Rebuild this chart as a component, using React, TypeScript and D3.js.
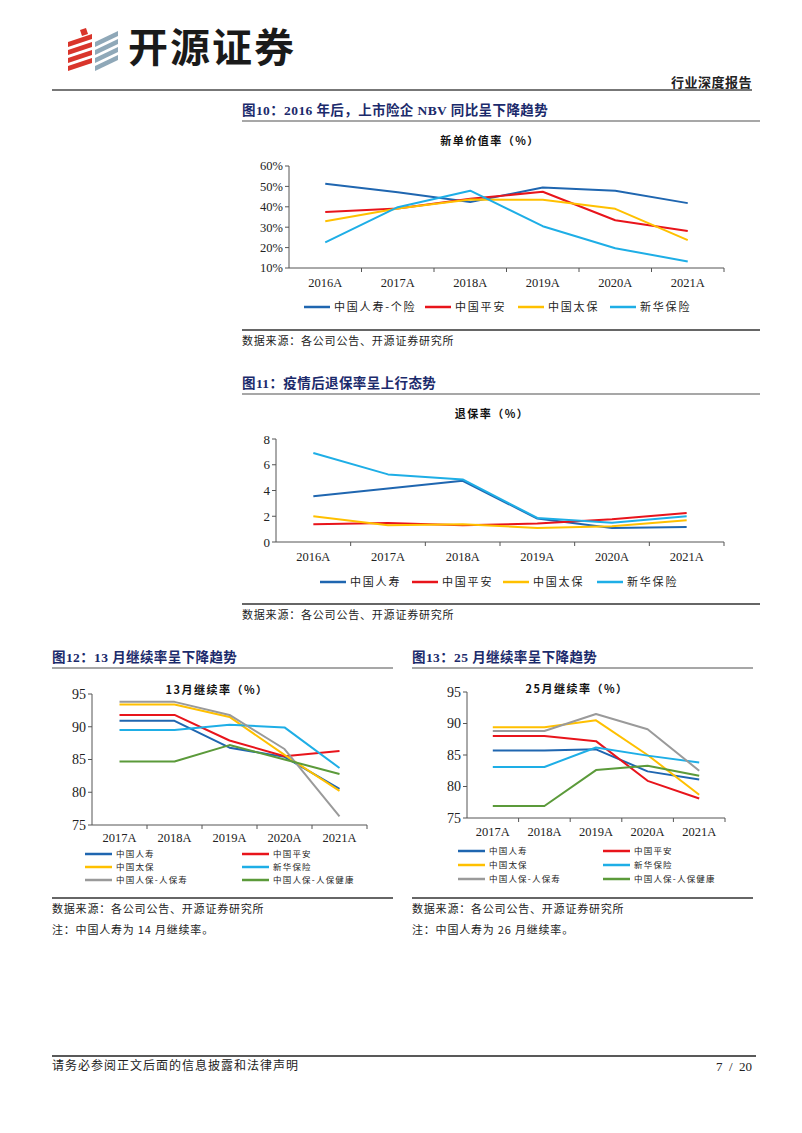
import React from "react";
import * as d3 from "d3";

const years6 = ["2016A", "2017A", "2018A", "2019A", "2020A", "2021A"];
const years5 = ["2017A", "2018A", "2019A", "2020A", "2021A"];

const nbvLife = [51.3, 47.1, 42.3, 49.5, 47.9, 41.8];
const nbvPingAn = [37.4, 39.2, 43.9, 47.4, 33.4, 28.1];
const nbvCpic = [32.9, 39.2, 43.6, 43.4, 39.0, 23.7];
const nbvNci = [22.6, 39.8, 47.9, 30.5, 19.7, 13.2];
const nbvTicks = [10, 20, 30, 40, 50, 60];

const surLife = [3.56, 4.16, 4.75, 1.82, 1.09, 1.17];
const surPingAn = [1.38, 1.48, 1.30, 1.43, 1.77, 2.26];
const surCpic = [2.0, 1.30, 1.38, 1.09, 1.22, 1.69];
const surNci = [6.91, 5.25, 4.86, 1.87, 1.5, 2.0];
const surTicks = [0, 2, 4, 6, 8];

const p13Life = [90.9, 90.9, 86.8, 85.4, 80.5];
const p13PingAn = [91.8, 91.8, 87.9, 85.5, 86.3];
const p13Cpic = [93.4, 93.4, 91.5, 85.7, 80.2];
const p13Nci = [89.5, 89.5, 90.3, 89.9, 83.7];
const p13PiccLife = [93.8, 93.8, 91.8, 86.6, 76.3];
const p13PiccHealth = [84.7, 84.7, 87.2, 85.0, 82.8];

const p25Life = [85.7, 85.7, 85.9, 82.4, 81.1];
const p25PingAn = [88.0, 88.0, 87.2, 80.9, 78.1];
const p25Cpic = [89.4, 89.4, 90.5, 85.0, 78.7];
const p25Nci = [83.1, 83.1, 86.2, 84.9, 83.8];
const p25PiccLife = [88.8, 88.8, 91.5, 89.1, 82.5];
const p25PiccHealth = [76.9, 76.9, 82.6, 83.3, 81.7];
const persTicks = [75, 80, 85, 90, 95];

const C = {
  life: "#1F66B0",
  pingan: "#E8141B",
  cpic: "#FFC000",
  nci: "#1EAEE6",
  piccLife: "#9A9A9A",
  piccHealth: "#5B9A3A",
};

const SERIF = "'Liberation Serif','Times New Roman','Noto Sans CJK SC',serif";
const CJK = "'Noto Sans CJK SC','Liberation Serif',serif";
const NAVY = "#1B2A6B";

type Series = { name: string; color: string; values: number[] };
type Legend = { x: number; y: number; series: number; lineLen: number }[];

function LineChart(props: {
  left: number; right: number; top: number; bottom: number;
  cats: string[]; domain: [number, number]; ticks: number[];
  fmt: (v: number) => string; series: Series[]; labelY: number;
  legend: Legend; legendFont: number; tickFont: number; yTickFont: number;
}) {
  const { left, right, top, bottom, cats, domain, ticks, fmt, series, labelY, legend, legendFont, tickFont, yTickFont } = props;
  const x = d3.scaleBand<string>().domain(cats).range([left, right]);
  const y = d3.scaleLinear().domain(domain).range([bottom, top]);
  const line = d3
    .line<number>()
    .x((_, i) => (x(cats[i]) as number) + x.bandwidth() / 2)
    .y((v) => y(v));
  const axisColor = "#555";
  return (
    <g>
      {series.map((s) => (
        <path key={s.name} d={line(s.values) || ""} fill="none" stroke={s.color} strokeWidth={2} strokeLinejoin="round" />
      ))}
      <line x1={left} x2={left} y1={top} y2={bottom} stroke={axisColor} strokeWidth={1} />
      <line x1={left} x2={right} y1={bottom} y2={bottom} stroke={axisColor} strokeWidth={1} />
      {ticks.map((t) => (
        <g key={t}>
          <line x1={left - 4} x2={left} y1={y(t)} y2={y(t)} stroke={axisColor} />
          <text x={left - 6} y={y(t)} dy="0.35em" textAnchor="end" fontFamily={SERIF} fontSize={yTickFont} fill="#222">
            {fmt(t)}
          </text>
        </g>
      ))}
      {cats.map((c, i) => (
        <g key={c}>
          {i > 0 && (
            <line x1={x(c) as number} x2={x(c) as number} y1={bottom} y2={bottom + 4} stroke={axisColor} />
          )}
          <text x={(x(c) as number) + x.bandwidth() / 2} y={labelY} dy="0.35em" textAnchor="middle" fontFamily={SERIF} fontSize={tickFont} fill="#222">
            {c}
          </text>
        </g>
      ))}
      <line x1={right} x2={right} y1={bottom} y2={bottom + 4} stroke={axisColor} />
      {legend.map((l) => {
        const s = series[l.series];
        return (
          <g key={s.name}>
            <line x1={l.x} x2={l.x + l.lineLen} y1={l.y} y2={l.y} stroke={s.color} strokeWidth={2.5} />
            <text x={l.x + l.lineLen + 4} y={l.y} dy="0.35em" fontFamily={CJK} fontSize={legendFont} letterSpacing={legendFont > 9 ? 1.8 : 1.2} fill="#222">
              {s.name}
            </text>
          </g>
        );
      })}
    </g>
  );
}

function FigTitle({ x, y, x2, text }: { x: number; y: number; x2: number; text: string }) {
  return (
    <g>
      <text x={x} y={y} dy="0.35em" fontFamily={SERIF} fontWeight="bold" fontSize={13.5} fill={NAVY} letterSpacing={0.4}>
        {text}
      </text>
      <line x1={x} x2={x2} y1={y + 11} y2={y + 11} stroke="#8a8a8a" strokeWidth={1.5} />
    </g>
  );
}

function Source({ x, y, x2, note }: { x: number; y: number; x2: number; note?: string }) {
  return (
    <g>
      <line x1={x} x2={x2} y1={y} y2={y} stroke="#333" strokeWidth={1.5} />
      <text x={x} y={y + 11} dy="0.35em" fontFamily={CJK} fontSize={11} letterSpacing={0.8} fill="#222">
        数据来源：各公司公告、开源证券研究所
      </text>
      {note && (
        <text x={x} y={y + 32} dy="0.35em" fontFamily={CJK} fontSize={11} letterSpacing={0.8} fill="#222">
          {note}
        </text>
      )}
    </g>
  );
}

function ChartTitle({ x, y, text, size }: { x: number; y: number; text: string; size: number }) {
  return (
    <text x={x} y={y} dy="0.35em" textAnchor="middle" fontFamily={CJK} fontWeight="bold" fontSize={size} letterSpacing={1.5} fill="#111">
      {text}
    </text>
  );
}

function Logo() {
  const red = "#D9352B";
  const gray = "#8FA8B8";
  const stripes = [0, 1, 2, 3];
  return (
    <g>
      {stripes.map((i) => (
        <polygon key={"r" + i} points={`${68},${42 + i * 8} ${92},${34 + i * 8} ${92},${39 + i * 8} ${68},${47 + i * 8}`} fill={red} />
      ))}
      <polygon points="80,30 86,28 88,34 82,36" fill={red} />
      {stripes.map((i) => (
        <polygon key={"g" + i} points={`${95},${42 + i * 8} ${118},${31 + i * 8} ${118},${36 + i * 8} ${95},${47 + i * 8}`} fill={gray} />
      ))}
    </g>
  );
}

export default function App() {
  const s4 = (names: string[], vals: number[][], cols: string[]): Series[] =>
    names.map((n, i) => ({ name: n, color: cols[i], values: vals[i] }));
  const nbv = s4(["中国人寿-个险", "中国平安", "中国太保", "新华保险"], [nbvLife, nbvPingAn, nbvCpic, nbvNci], [C.life, C.pingan, C.cpic, C.nci]);
  const sur = s4(["中国人寿", "中国平安", "中国太保", "新华保险"], [surLife, surPingAn, surCpic, surNci], [C.life, C.pingan, C.cpic, C.nci]);
  const six = ["中国人寿", "中国平安", "中国太保", "新华保险", "中国人保-人保寿", "中国人保-人保健康"];
  const cols6 = [C.life, C.pingan, C.cpic, C.nci, C.piccLife, C.piccHealth];
  const p13 = s4(six, [p13Life, p13PingAn, p13Cpic, p13Nci, p13PiccLife, p13PiccHealth], cols6);
  const p25 = s4(six, [p25Life, p25PingAn, p25Cpic, p25Nci, p25PiccLife, p25PiccHealth], cols6);
  const pct = (v: number) => `${v}%`;
  const num = (v: number) => `${v}`;
  const leg6 = (lx: number, rx: number, ys: number[]): Legend => [
    { x: lx, y: ys[0], series: 0, lineLen: 27 },
    { x: rx, y: ys[0], series: 1, lineLen: 27 },
    { x: lx, y: ys[1], series: 2, lineLen: 27 },
    { x: rx, y: ys[1], series: 3, lineLen: 27 },
    { x: lx, y: ys[2], series: 4, lineLen: 27 },
    { x: rx, y: ys[2], series: 5, lineLen: 27 },
  ];
  return (
    <svg width={802} height={1133} style={{ position: "absolute", left: 0, top: 0, background: "#fff" }}>
      <rect width={802} height={1133} fill="#fff" />
      <Logo />
      <text x={128} y={48} dy="0.35em" fontFamily={CJK} fontWeight="bold" fontSize={40} fill="#1a1a1a" letterSpacing={2}>
        开源证券
      </text>
      <text x={752} y={82} dy="0.35em" textAnchor="end" fontFamily={CJK} fontWeight="bold" fontSize={13} fill="#222" letterSpacing={0.5}>
        行业深度报告
      </text>
      <line x1={52} x2={752} y1={90} y2={90} stroke="#777" strokeWidth={2} />

      <FigTitle x={242} y={110} x2={760} text="图10：2016 年后，上市险企 NBV 同比呈下降趋势" />
      <ChartTitle x={490} y={141} text="新单价值率（%）" size={11} />
      <LineChart left={289} right={724} top={166} bottom={268} cats={years6} domain={[10, 60]} ticks={nbvTicks} fmt={pct}
        series={nbv} labelY={283} tickFont={12.5} yTickFont={12.5} legendFont={11}
        legend={[{ x: 304, y: 307, series: 0, lineLen: 26 }, { x: 425, y: 307, series: 1, lineLen: 26 }, { x: 518, y: 307, series: 2, lineLen: 26 }, { x: 610, y: 307, series: 3, lineLen: 26 }]} />
      <Source x={242} y={330} x2={760} />

      <FigTitle x={242} y={383} x2={760} text="图11：疫情后退保率呈上行态势" />
      <ChartTitle x={492} y={414} text="退保率（%）" size={11} />
      <LineChart left={276} right={724} top={439} bottom={542} cats={years6} domain={[0, 8]} ticks={surTicks} fmt={num}
        series={sur} labelY={557} tickFont={12.5} yTickFont={13} legendFont={11}
        legend={[{ x: 320, y: 582, series: 0, lineLen: 26 }, { x: 412, y: 582, series: 1, lineLen: 26 }, { x: 503, y: 582, series: 2, lineLen: 26 }, { x: 597, y: 582, series: 3, lineLen: 26 }]} />
      <Source x={242} y={604} x2={760} />

      <FigTitle x={52} y={657} x2={393} text="图12：13 月继续率呈下降趋势" />
      <ChartTitle x={217} y={690} text="13月继续率（%）" size={11} />
      <LineChart left={92} right={367} top={694} bottom={825} cats={years5} domain={[75, 95]} ticks={persTicks} fmt={num}
        series={p13} labelY={838} tickFont={12.5} yTickFont={14} legendFont={8.5} legend={leg6(85, 242, [854, 867, 880])} />
      <Source x={52} y={898} x2={393} note="注：中国人寿为 14 月继续率。" />

      <FigTitle x={412} y={657} x2={753} text="图13：25 月继续率呈下降趋势" />
      <ChartTitle x={577} y={689} text="25月继续率（%）" size={11} />
      <LineChart left={467} right={725} top={692} bottom={818} cats={years5} domain={[75, 95]} ticks={persTicks} fmt={num}
        series={p25} labelY={832} tickFont={12.5} yTickFont={14} legendFont={8.5} legend={leg6(458, 603, [851, 865, 879])} />
      <Source x={412} y={898} x2={753} note="注：中国人寿为 26 月继续率。" />

      <line x1={52} x2={756} y1={1056} y2={1056} stroke="#222" strokeWidth={1.5} />
      <text x={52} y={1066} dy="0.35em" fontFamily={CJK} fontSize={12} letterSpacing={1} fill="#222">
        请务必参阅正文后面的信息披露和法律声明
      </text>
      <text x={752} y={1066} dy="0.35em" textAnchor="end" fontFamily={SERIF} fontSize={13} fill="#222">
        {"7\u00a0\u00a0/\u00a0\u00a020"}
      </text>
    </svg>
  );
}
